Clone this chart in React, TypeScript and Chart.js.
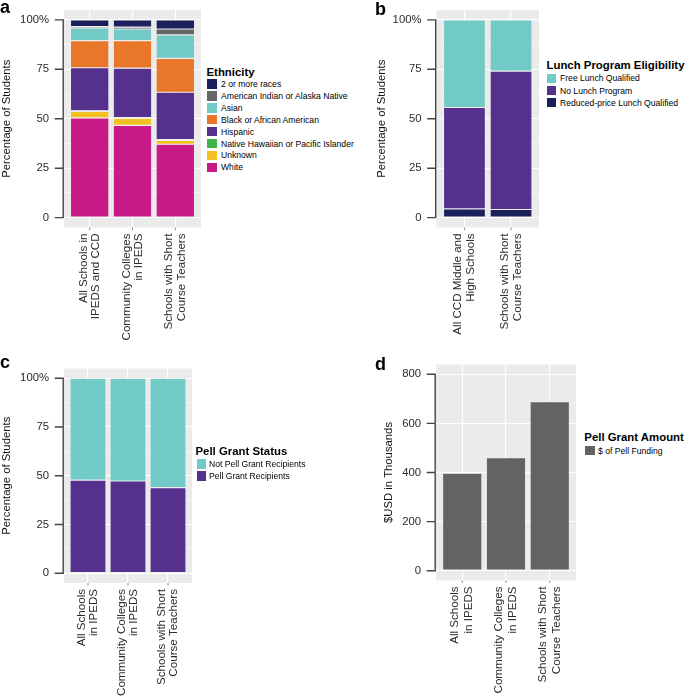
import React, { useEffect, useRef } from 'react';
import { Chart, registerables } from 'chart.js';
Chart.register(...registerables);

const FONT = '"Liberation Sans", Arial, Helvetica, sans-serif';

// ---------- Panel a: ethnicity (percent of students) ----------
const ethCategories = [['All Schools in', 'IPEDS and CCD'], ['Community Colleges', 'in IPEDS'], ['Schools with Short', 'Course Teachers']];
const ethWhite = [50.4, 46.7, 37.1];
const ethUnknown = [3.3, 3.6, 2.0];
const ethNativeHawaiian = [0.3, 0.3, 0.3];
const ethHispanic = [21.8, 25.0, 24.0];
const ethBlack = [13.7, 13.9, 17.1];
const ethAsian = [6.4, 5.9, 11.9];
const ethAmIndian = [0.7, 0.9, 3.0];
const ethMulti = [3.4, 3.7, 4.6];

// ---------- Panel b: lunch program eligibility ----------
const lunchCategories = [['All CCD Middle and', 'High Schools'], ['Schools with Short', 'Course Teachers']];
const lunchReduced = [4.4, 4.1];
const lunchNone = [51.3, 70.0];
const lunchFree = [44.3, 25.9];

// ---------- Panel c: Pell grant status ----------
const pellCategories = [['All Schools', 'in IPEDS'], ['Community Colleges', 'in IPEDS'], ['Schools with Short', 'Course Teachers']];
const pellRecipients = [47.8, 47.3, 43.9];
const pellNotRecipients = [52.2, 52.7, 56.1];

// ---------- Panel d: Pell grant amount ($USD thousands) ----------
const fundingCategories = [['All Schools', 'in IPEDS'], ['Community Colleges', 'in IPEDS'], ['Schools with Short', 'Course Teachers']];
const pellFundingK = [397, 460, 689];

// ---------- ticks ----------
const pctMajorTicks = [0, 25, 50, 75, 100];
const pctMinorTicks = [12.5, 37.5, 62.5, 87.5];
const usdMajorTicks = [0, 200, 400, 600, 800];
const usdMinorTicks: number[] = [];

const C_NAVY = '#1B1F5C';
const C_GREY = '#666666';
const C_TEAL = '#72CAC6';
const C_ORANGE = '#E8772A';
const C_PURPLE = '#55308D';
const C_GREEN = '#3DB54A';
const C_YELLOW = '#F4C124';
const C_MAGENTA = '#C71A86';
const C_BAR = '#636363';

type Series = { label: string; data: number[]; color: string };

const ethSeries: Series[] = [
  { label: 'White', data: ethWhite, color: C_MAGENTA },
  { label: 'Unknown', data: ethUnknown, color: C_YELLOW },
  { label: 'Native Hawaiian or Pacific Islander', data: ethNativeHawaiian, color: C_GREEN },
  { label: 'Hispanic', data: ethHispanic, color: C_PURPLE },
  { label: 'Black or African American', data: ethBlack, color: C_ORANGE },
  { label: 'Asian', data: ethAsian, color: C_TEAL },
  { label: 'American Indian or Alaska Native', data: ethAmIndian, color: C_GREY },
  { label: '2 or more races', data: ethMulti, color: C_NAVY },
];
const lunchSeries: Series[] = [
  { label: 'Reduced-price Lunch Qualified', data: lunchReduced, color: C_NAVY },
  { label: 'No Lunch Program', data: lunchNone, color: C_PURPLE },
  { label: 'Free Lunch Qualified', data: lunchFree, color: C_TEAL },
];
const pellSeries: Series[] = [
  { label: 'Pell Grant Recipients', data: pellRecipients, color: C_PURPLE },
  { label: 'Not Pell Grant Recipients', data: pellNotRecipients, color: C_TEAL },
];
const fundingSeries: Series[] = [
  { label: '$ of Pell Funding', data: pellFundingK, color: C_BAR },
];

type PanelProps = {
  left: number; top: number; width: number; height: number;
  area: { l: number; t: number; r: number; b: number };
  cats: string[][];
  series: Series[];
  stacked: boolean;
  yMin: number; yMax: number;
  major: number[]; minor: number[];
  fmt: (v: number) => string;
  yTitle: string;
  lineH: number;
};

function Panel(p: PanelProps) {
  const ref = useRef<HTMLCanvasElement>(null);
  useEffect(() => {
    const canvas = ref.current;
    if (!canvas) return;
    const majorSet = new Set(p.major);
    const plugin = {
      id: 'ggPanel',
      beforeDraw(chart: any) {
        const { ctx, chartArea: a } = chart;
        ctx.save();
        ctx.fillStyle = '#EBEBEB';
        ctx.fillRect(a.left, a.top, a.right - a.left, a.bottom - a.top);
        ctx.restore();
      },
      afterDraw(chart: any) {
        const { ctx, chartArea: a } = chart;
        const ys = chart.scales.y;
        const xs = chart.scales.x;
        const ax = a.left - 0.8;
        ctx.save();
        ctx.strokeStyle = '#444444';
        ctx.lineWidth = 1.4;
        const y0 = ys.getPixelForValue(p.major[0]);
        const y1 = ys.getPixelForValue(p.major[p.major.length - 1]);
        ctx.beginPath();
        ctx.moveTo(ax, y0 + 0.7);
        ctx.lineTo(ax, y1 - 0.7);
        for (const v of p.major) {
          const y = ys.getPixelForValue(v);
          ctx.moveTo(ax - 8.5, y);
          ctx.lineTo(ax, y);
        }
        ctx.stroke();
        ctx.strokeStyle = '#8a8a8a';
        ctx.lineWidth = 1;
        ctx.beginPath();
        p.cats.forEach((_, i) => {
          const x = xs.getPixelForValue(i + 1);
          ctx.moveTo(x, a.bottom);
          ctx.lineTo(x, a.bottom + 2.5);
        });
        ctx.stroke();
        ctx.restore();
      },
    };
    const chart = new Chart(canvas, {
      type: 'bar',
      data: {
        datasets: p.series.map((s) => ({
          label: s.label,
          data: s.data.map((v, i) => ({ x: i + 1, y: v })),
          backgroundColor: s.color,
          borderColor: 'rgba(255,255,255,0.3)',
          borderWidth: 0.6,
          borderSkipped: false,
          barPercentage: 0.9,
          categoryPercentage: 1,
        })),
      },
      options: {
        animation: false,
        responsive: false,
        maintainAspectRatio: false,
        layout: { padding: { left: 0, top: p.area.t, right: p.width - p.area.r, bottom: 0 } },
        plugins: { legend: { display: false }, tooltip: { enabled: false } },
        scales: {
          x: {
            type: 'linear',
            min: 0.4,
            max: p.cats.length + 0.6,
            offset: false,
            stacked: p.stacked,
            afterBuildTicks: (s: any) => { s.ticks = p.cats.map((_, i) => ({ value: i + 1 })); },
            afterFit: (s: any) => { s.height = p.height - p.area.b; },
            grid: { color: '#ffffff', lineWidth: 1.1, offset: false, drawTicks: true, tickLength: 6, tickColor: 'rgba(0,0,0,0)' },
            border: { display: false },
            ticks: {
              autoSkip: false,
              minRotation: 90,
              maxRotation: 90,
              padding: 0,
              labelOffset: -p.lineH / 2,
              color: '#2b2b2b',
              font: { family: FONT, size: 11.6, lineHeight: p.lineH + 'px' },
              callback: (v: any) => p.cats[Math.round(Number(v)) - 1] ?? '',
            },
          },
          y: {
            type: 'linear',
            min: p.yMin,
            max: p.yMax,
            stacked: p.stacked,
            afterBuildTicks: (s: any) => {
              s.ticks = [...p.major, ...p.minor].sort((a, b) => a - b).map((v) => ({ value: v }));
            },
            afterFit: (s: any) => { s.width = p.area.l; },
            grid: {
              color: '#ffffff',
              lineWidth: (c: any) => (c.tick && majorSet.has(c.tick.value) ? 1.1 : 0.5),
              drawTicks: true,
              tickLength: 15,
              tickColor: 'rgba(0,0,0,0)',
            },
            border: { display: false },
            ticks: {
              autoSkip: false,
              padding: 0,
              color: '#2b2b2b',
              font: { family: FONT, size: 11.3 },
              callback: (v: any) => (majorSet.has(Number(v)) ? p.fmt(Number(v)) : ''),
            },
            title: {
              display: true,
              text: p.yTitle,
              color: '#111111',
              font: { family: FONT, size: 11.3, lineHeight: 1.2 },
              padding: 0,
            },
          },
        },
      } as any,
      plugins: [plugin],
    });
    return () => chart.destroy();
  }, []);
  return (
    <canvas
      ref={ref}
      width={p.width}
      height={p.height}
      style={{ position: 'absolute', left: p.left, top: p.top, width: p.width, height: p.height }}
    />
  );
}

type LegendProps = {
  title: string;
  items: Series[];
  titleLeft: number; titleY: number;
  boxLeft: number; textLeft: number;
  firstY: number; step: number;
};

function Legend(l: LegendProps) {
  return (
    <>
      <div style={{ position: 'absolute', left: l.titleLeft, top: l.titleY - 7, fontFamily: FONT, fontWeight: 'bold', fontSize: 11.4, lineHeight: '14px', whiteSpace: 'nowrap', color: '#000' }}>
        {l.title}
      </div>
      {l.items.map((it, i) => {
        const cy = l.firstY + i * l.step;
        return (
          <React.Fragment key={it.label}>
            <div style={{ position: 'absolute', left: l.boxLeft, top: cy - 4.8, width: 9.6, height: 9.6, background: it.color }} />
            <div style={{ position: 'absolute', left: l.textLeft, top: cy - 6, fontFamily: FONT, fontSize: 8.6, lineHeight: '12px', whiteSpace: 'nowrap', color: '#000' }}>
              {it.label}
            </div>
          </React.Fragment>
        );
      })}
    </>
  );
}

const letterStyle = (left: number, top: number): React.CSSProperties => ({
  position: 'absolute', left, top, fontFamily: FONT, fontWeight: 'bold', fontSize: 18, lineHeight: '18px', color: '#000',
});

const pctFmt = (v: number) => (v === 100 ? '100%' : String(v));
const usdFmt = (v: number) => String(v);

export default function App() {
  return (
    <div style={{ position: 'absolute', left: 0, top: 0, width: 685, height: 697, background: '#fff', overflow: 'hidden' }}>
      <Panel left={0} top={0} width={205} height={350} area={{ l: 64, t: 10, r: 201, b: 227.5 }}
        cats={ethCategories} series={ethSeries} stacked={true} yMin={-5} yMax={105}
        major={pctMajorTicks} minor={pctMinorTicks} fmt={pctFmt} yTitle="Percentage of Students" lineH={12.3} />
      <Panel left={375} top={0} width={168} height={350} area={{ l: 61.5, t: 10, r: 164, b: 227.5 }}
        cats={lunchCategories} series={lunchSeries} stacked={true} yMin={-5} yMax={105}
        major={pctMajorTicks} minor={pctMinorTicks} fmt={pctFmt} yTitle="Percentage of Students" lineH={13} />
      <Panel left={0} top={340} width={196} height={357} area={{ l: 64, t: 28.5, r: 192, b: 243 }}
        cats={pellCategories} series={pellSeries} stacked={true} yMin={-5} yMax={105}
        major={pctMajorTicks} minor={pctMinorTicks} fmt={pctFmt} yTitle="Percentage of Students" lineH={12} />
      <Panel left={382} top={340} width={198} height={357} area={{ l: 54, t: 24.5, r: 194, b: 240.5 }}
        cats={fundingCategories} series={fundingSeries} stacked={false} yMin={-40} yMax={840}
        major={usdMajorTicks} minor={usdMinorTicks} fmt={usdFmt} yTitle="$USD in Thousands" lineH={14} />

      <Legend title="Ethnicity" items={[...ethSeries].reverse()} titleLeft={206.5} titleY={72}
        boxLeft={207.3} textLeft={221} firstY={84} step={11.9} />
      <Legend title="Lunch Program Eligibility" items={[...lunchSeries].reverse()} titleLeft={546.5} titleY={65}
        boxLeft={546.9} textLeft={560} firstY={78.3} step={12.2} />
      <Legend title="Pell Grant Status" items={[...pellSeries].reverse()} titleLeft={195.5} titleY={450.5}
        boxLeft={196.8} textLeft={209} firstY={464} step={11.8} />
      <Legend title="Pell Grant Amount" items={fundingSeries} titleLeft={584.3} titleY={436.7}
        boxLeft={585} textLeft={598} firstY={450.5} step={11.8} />

      <div style={letterStyle(0, -2)}>a</div>
      <div style={letterStyle(375, 0)}>b</div>
      <div style={letterStyle(0, 353)}>c</div>
      <div style={letterStyle(375, 355)}>d</div>
    </div>
  );
}
